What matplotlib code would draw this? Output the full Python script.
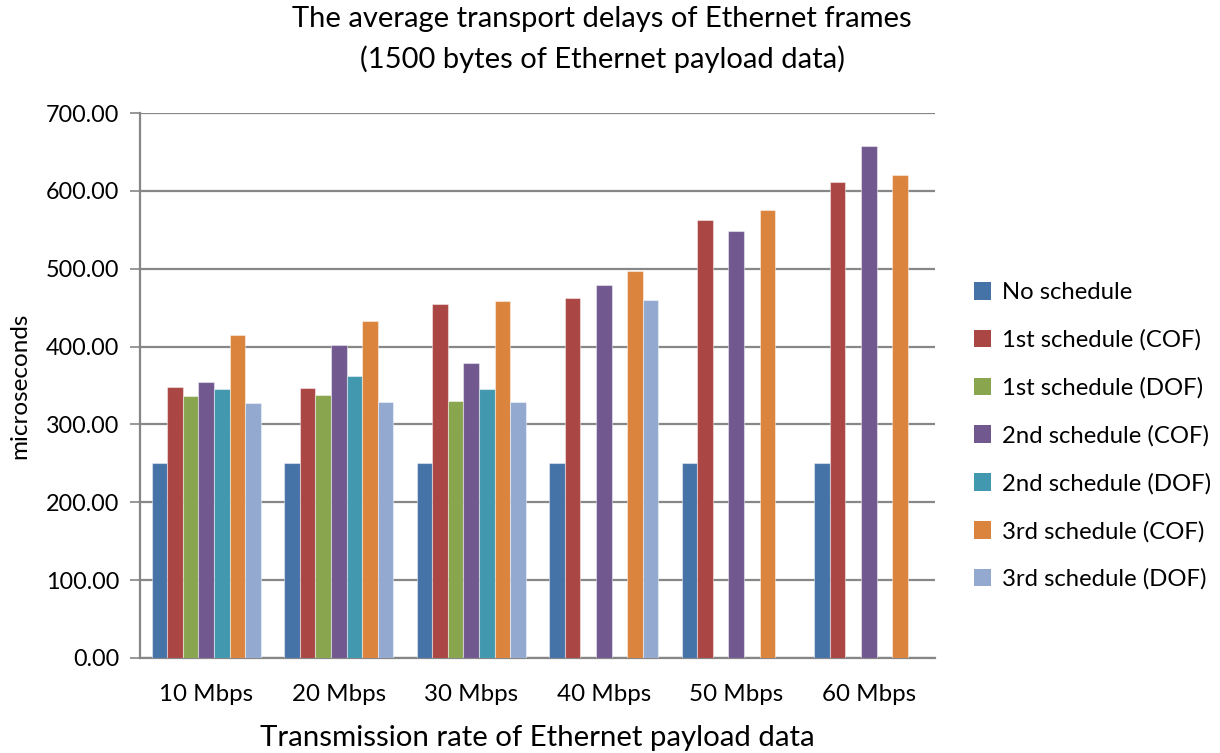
import numpy as np
import matplotlib
matplotlib.use("Agg")
import matplotlib.pyplot as plt
from matplotlib.patches import Patch

plt.rcParams['font.family'] = ['Lato', 'DejaVu Sans']

categories = ["10 Mbps", "20 Mbps", "30 Mbps", "40 Mbps", "50 Mbps", "60 Mbps"]
series_names = [
    "No schedule",
    "1st schedule (COF)",
    "1st schedule (DOF)",
    "2nd schedule (COF)",
    "2nd schedule (DOF)",
    "3rd schedule (COF)",
    "3rd schedule (DOF)",
]
nan = np.nan
no_schedule   = [250, 250, 250, 250, 250, 250]
first_cof     = [348, 347, 455, 463, 563, 612]
first_dof     = [337, 338, 330, nan, nan, nan]
second_cof    = [355, 402, 379, 479, 549, 657]
second_dof    = [345, 362, 345, nan, nan, nan]
third_cof     = [415, 433, 458, 497, 576, 620]
third_dof     = [328, 329, 329, 460, nan, nan]
series_values = [no_schedule, first_cof, first_dof, second_cof,
                 second_dof, third_cof, third_dof]
colors = ["#4572A7", "#AA4643", "#89A54E", "#71588F",
          "#4198AF", "#DB843D", "#93A9CF"]
y_ticks = [0, 100, 200, 300, 400, 500, 600, 700]

fig = plt.figure(figsize=(12.2, 7.53), dpi=100)
ax = fig.add_axes([140 / 1220, 1 - 658 / 753, 795 / 1220, 545 / 753])

x = np.arange(len(categories))
bw = 0.118
n = len(series_values)
for i, (vals, col) in enumerate(zip(series_values, colors)):
    offs = (i - (n - 1) / 2) * bw
    ax.bar(x + offs, vals, width=bw, color=col, edgecolor=(1, 1, 1, 0.45),
           linewidth=0.8, zorder=3)

ax.set_xlim(-0.5, len(categories) - 0.5)
ax.set_ylim(0, 700)
ax.set_yticks(y_ticks)
ax.set_yticklabels([f"{v:.2f}" for v in y_ticks], fontsize=16.8)
ax.set_xticks(x)
ax.set_xticklabels(categories, fontsize=17.4)
ax.tick_params(axis='x', length=0, pad=19)
ax.tick_params(axis='y', length=7, width=1.2, color="#868686", pad=8)
ax.grid(axis='y', color="#878787", linewidth=1.6, zorder=0)
for s in ['top', 'right']:
    ax.spines[s].set_visible(False)
for s in ['left', 'bottom']:
    ax.spines[s].set_color("#868686")
    ax.spines[s].set_linewidth(1.6)

ax.set_ylabel("microseconds", fontsize=17.5, labelpad=11)
ax.set_xlabel("Transmission rate of Ethernet payload data", fontsize=21.2, labelpad=14)
fig.suptitle("The average transport delays of Ethernet frames\n(1500 bytes of Ethernet payload data)",
             fontsize=21, x=602 / 1220, y=0.992, va='top', linespacing=1.6)

handles = [Patch(facecolor=c, edgecolor='none') for c in colors]
fig.legend(handles, series_names, loc='center left',
           bbox_to_anchor=(952 / 1220, 1 - 436 / 753), frameon=False,
           fontsize=17.2, handlelength=0.75, handleheight=0.75,
           handletextpad=0.45, labelspacing=1.1)

fig.savefig("out.png", dpi=100)
